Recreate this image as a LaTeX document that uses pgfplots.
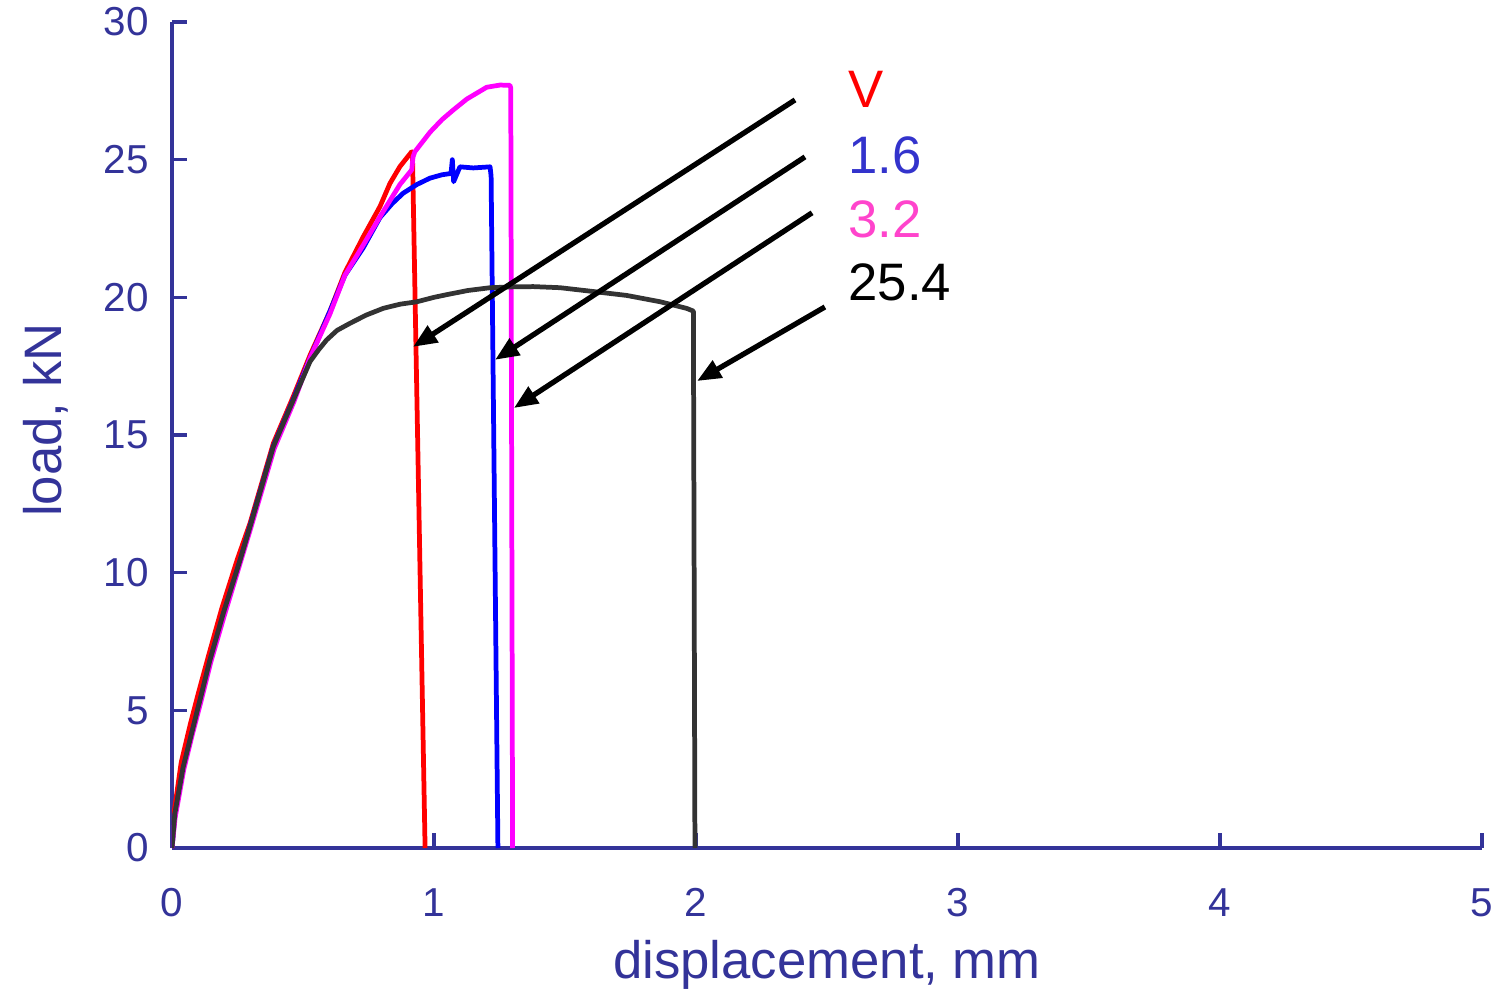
\documentclass[border=0pt]{standalone}
\usepackage{fontspec}
\setmainfont{Liberation Sans}
\usepackage{pgfplots}
\pgfplotsset{compat=1.18}
\usetikzlibrary{arrows.meta}
\definecolor{axiscol}{RGB}{51,51,153}
\definecolor{crv1}{RGB}{255,0,0}
\definecolor{crv2}{RGB}{0,0,255}
\definecolor{crv3}{RGB}{255,0,255}
\definecolor{crv4}{RGB}{51,51,51}
\definecolor{lab16}{RGB}{51,51,204}
\definecolor{lab32}{RGB}{255,68,204}
\begin{document}
\begin{tikzpicture}
\useasboundingbox (-17.2mm,-14.2mm) rectangle (132.6mm,84.8mm);
\begin{axis}[
  at={(0,0)}, anchor=south west,
  width=131mm, height=82.6mm, scale only axis,
  xmin=0, xmax=5, ymin=0, ymax=30,
  xtick={0,1,2,3,4,5}, ytick={0,5,10,15,20,25,30},
  axis lines=left,
  axis line style={-, line width=0.95pt, color=axiscol},
  tick align=inside,
  major tick length=1.5mm,
  tick style={line width=0.95pt, color=axiscol},
  /pgf/number format/assume math mode=true,
  tick label style={font=\fontsize{11.5}{13}\selectfont, color=axiscol},
  xticklabel style={yshift=-2.8mm},
  yticklabel style={xshift=-1.1mm},
  xlabel={displacement, mm},
  xlabel style={at={(axis description cs:0.5,-0.158)}, anchor=base, inner sep=0,
    font=\fontsize{15}{18}\selectfont, color=axiscol},
  ylabel={load, kN},
  ylabel style={at={(axis description cs:-0.084,0.518)}, anchor=base, rotate=0, inner sep=0,
    font=\fontsize{15}{18}\selectfont, color=axiscol},
  every axis plot/.append style={line width=1.35pt, line join=round},
]
\addplot[crv1, no marks] coordinates {
(0,0) (0.008,1.3) (0.035,3.1) (0.07,4.5) (0.1,5.6) (0.14,7.0) (0.19,8.7) (0.25,10.5) (0.298,11.8) (0.387,14.7) (0.463,16.4) (0.527,17.9) (0.603,19.5) (0.66,20.9) (0.73,22.2) (0.794,23.3) (0.832,24.14) (0.87,24.75) (0.915,25.29) (0.918,25.1) (0.966,0)
};
\addplot[crv2, no marks] coordinates {
(0,0) (0.011,1.2) (0.043,2.9) (0.075,4.15) (0.107,5.35) (0.145,6.8) (0.196,8.5) (0.26,10.45) (0.298,11.7) (0.387,14.6) (0.463,16.3) (0.527,17.8) (0.603,19.5) (0.66,20.8) (0.73,21.8) (0.794,22.9) (0.84,23.4) (0.882,23.78) (0.935,24.1) (0.985,24.33) (1.03,24.45) (1.065,24.5) (1.07,25.0) (1.075,24.2) (1.099,24.74) (1.15,24.7) (1.214,24.74) (1.218,24.4) (1.244,0)
};
\addplot[crv3, no marks] coordinates {
(0,0) (0.012,1.1) (0.045,2.85) (0.077,4.1) (0.11,5.3) (0.148,6.75) (0.2,8.45) (0.262,10.4) (0.3,11.6) (0.39,14.5) (0.465,16.2) (0.527,17.8) (0.603,19.4) (0.66,20.8) (0.73,21.9) (0.794,22.93) (0.87,24.1) (0.915,24.63) (0.92,25.1) (0.927,25.29) (0.985,26.0) (1.03,26.45) (1.073,26.8) (1.125,27.2) (1.201,27.63) (1.252,27.71) (1.29,27.7) (1.293,27.6) (1.30,0)
};
\addplot[crv4, no marks] coordinates {
(0,0) (0.011,1.26) (0.043,2.95) (0.075,4.17) (0.107,5.38) (0.145,6.83) (0.196,8.53) (0.26,10.46) (0.298,11.67) (0.387,14.58) (0.463,16.27) (0.527,17.67) (0.56,18.1) (0.59,18.45) (0.63,18.8) (0.68,19.06) (0.74,19.35) (0.806,19.6) (0.87,19.75) (0.935,19.84) (1.0,20.0) (1.05,20.1) (1.13,20.25) (1.214,20.35) (1.3,20.38) (1.379,20.39) (1.481,20.35) (1.6,20.22) (1.735,20.07) (1.863,19.84) (1.964,19.6) (1.99,19.5) (1.996,0)
};
\draw[line width=1.5pt, -{Triangle[length=2.4mm,width=1.9mm]}] (axis cs:2.378,27.17) -- (axis cs:0.92,18.2);
\draw[line width=1.5pt, -{Triangle[length=2.4mm,width=1.9mm]}] (axis cs:2.416,25.1) -- (axis cs:1.233,17.73);
\draw[line width=1.5pt, -{Triangle[length=2.4mm,width=1.9mm]}] (axis cs:2.443,23.07) -- (axis cs:1.305,15.98);
\draw[line width=1.5pt, -{Triangle[length=2.4mm,width=1.9mm]}] (axis cs:2.492,19.65) -- (axis cs:2.004,16.96);
\node[anchor=base west, inner sep=0, text=crv1, font=\fontsize{15}{18}\selectfont] at (axis cs:2.58,26.88) {V};
\node[anchor=base west, inner sep=0, text=lab16, font=\fontsize{15}{18}\selectfont] at (axis cs:2.58,24.48) {1.6};
\node[anchor=base west, inner sep=0, text=lab32, font=\fontsize{15}{18}\selectfont] at (axis cs:2.58,22.19) {3.2};
\node[anchor=base west, inner sep=0, text=black, font=\fontsize{15}{18}\selectfont] at (axis cs:2.58,19.9) {25.4};
\end{axis}
\end{tikzpicture}
\end{document}
